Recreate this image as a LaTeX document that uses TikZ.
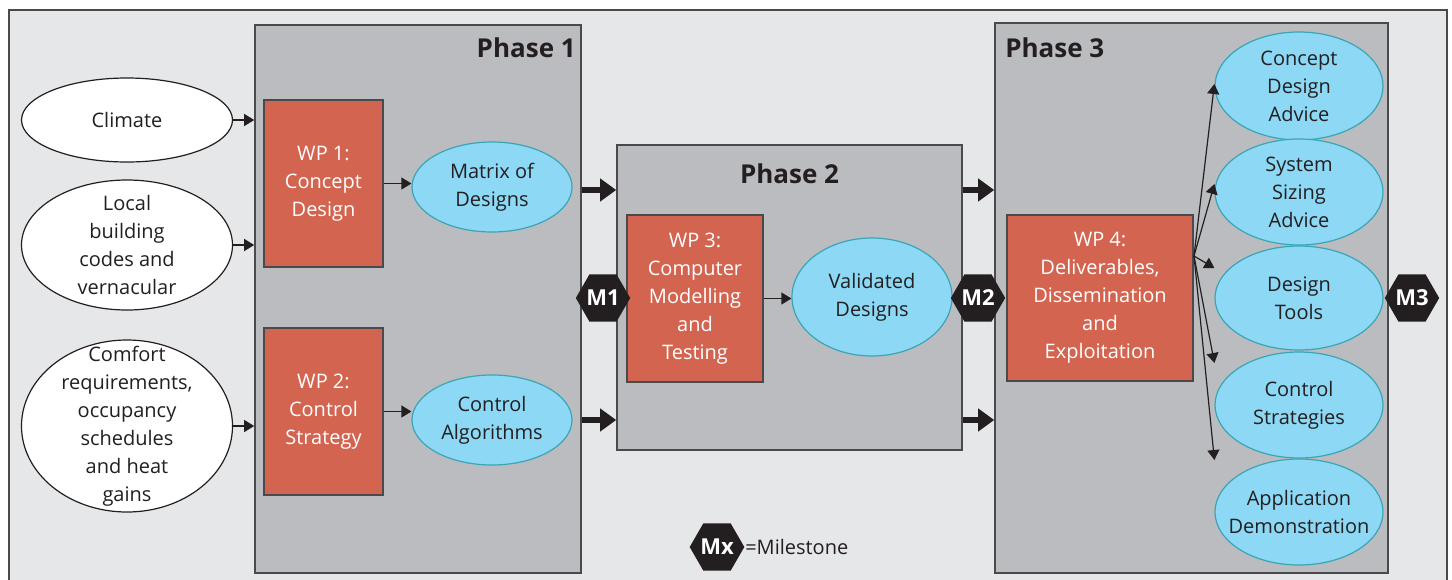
\documentclass[tikz,border=0pt]{standalone}
\usepackage{fontspec}
\setmainfont{Open Sans}
\usetikzlibrary{positioning,shapes,arrows,arrows.meta}
\definecolor{panelgray}{HTML}{E6E7E9}
\definecolor{phasegray}{HTML}{BBBCC0}
\definecolor{edgegray}{HTML}{4A4A4C}
\definecolor{wpred}{HTML}{D26450}
\definecolor{resultblue}{HTML}{8CD8F5}
\definecolor{resultedge}{HTML}{3AA5B5}
\definecolor{hexblack}{HTML}{231F20}
\tikzstyle{phase} = [draw=edgegray, fill=phasegray, rectangle, line width=0.8pt]
\tikzstyle{phaselabel} = [font=\fontsize{13}{15}\selectfont\bfseries, text=hexblack]
\tikzstyle{wp} = [draw=edgegray, fill=wpred, rectangle, text=white, text centered, align=center, line width=0.7pt]
\tikzstyle{input} = [draw=hexblack, ellipse, fill=white, inner sep=0pt, line width=0.6pt]
\tikzstyle{result} = [draw=resultedge, ellipse, fill=resultblue, inner sep=0pt, line width=0.6pt]
\tikzstyle{milestone} = [regular polygon, regular polygon sides=6, fill=hexblack, text=white, font=\fontsize{11}{13}\selectfont\bfseries, minimum size=25pt, inner sep=0pt]
\tikzstyle{line} = [draw=hexblack, line width=0.6pt, -{Triangle[length=5pt,width=6pt]}]
\tikzstyle{bigline} = [draw=hexblack, line width=3pt, -{Triangle[length=8pt,width=11pt]}]

\begin{document}
\begin{tikzpicture}[x=0.5pt, y=-0.5pt, every node/.style={font=\fontsize{10}{14}\selectfont, text=hexblack}, every label/.style={align=center}]
    \useasboundingbox (0,0) rectangle (1452,579);
    \fill [panelgray, draw=edgegray, line width=0.8pt] (9,10) rectangle (1447,600);
    % Place phases
    \node [phase, minimum width=163pt, minimum height=274pt] (phase1) at (418,299) {};
    \node [phase, minimum width=172.5pt, minimum height=152.5pt] (phase2) at (789.5,297.5) {};
    \node [phase, minimum width=196.5pt, minimum height=275pt] (phase3) at (1191.5,298) {};
    \node [phaselabel, anchor=north east] at ([xshift=0.5pt,yshift=-3pt]phase1.north east) {Phase 1};
    \node [phaselabel, anchor=north] at ([yshift=-6pt]phase2.north) {Phase 2};
    \node [phaselabel, anchor=north west] at ([xshift=2pt,yshift=-4pt]phase3.north west) {Phase 3};
    % Place inputs
    \node [input, minimum width=105.5pt, minimum height=42pt, label=center:Climate] (climate) at (127,120) {};
    \node [input, minimum width=105.5pt, minimum height=65pt, label=center:{Local\\building\\codes and\\vernacular}] (codes) at (127,245) {};
    \node [input, minimum width=105.5pt, minimum height=86pt, label=center:{Comfort\\requirements,\\occupancy\\schedules\\and heat\\gains}] (comfort) at (127,426) {};
    % Place work packages
    \node [wp, minimum width=59.5pt, minimum height=83.5pt] (wp1) at (323.5,183.5) {\color{white}WP 1:\\\color{white}Concept\\\color{white}Design};
    \node [wp, minimum width=59.5pt, minimum height=83.5pt] (wp2) at (323.5,411.5) {\color{white}WP 2:\\\color{white}Control\\\color{white}Strategy};
    \node [wp, minimum width=68pt, minimum height=83.5pt] (wp3) at (695,298.5) {\color{white}WP 3:\\\color{white}Computer\\\color{white}Modelling\\\color{white}and\\\color{white}Testing};
    \node [wp, minimum width=93pt, minimum height=83pt] (wp4) at (1100,298) {\color{white}WP 4:\\\color{white}Deliverables,\\\color{white}Dissemination\\\color{white}and\\\color{white}Exploitation};
    % Place results
    \node [result, minimum width=80pt, minimum height=45pt, label=center:{Matrix of\\Designs}] (matrix) at (492,187) {};
    \node [result, minimum width=80pt, minimum height=45pt, label=center:{Control\\Algorithms}] (algorithms) at (492,420) {};
    \node [result, minimum width=80pt, minimum height=59pt, label=center:{Validated\\Designs}] (validated) at (872,297) {};
    \node [result, minimum width=84pt, minimum height=54pt, label=center:{Concept\\Design\\Advice}] (advice) at (1299,86) {};
    \node [result, minimum width=84pt, minimum height=53pt, label=center:{System\\Sizing\\Advice}] (sizing) at (1299,192) {};
    \node [result, minimum width=84pt, minimum height=52pt, label=center:{Design\\Tools}] (tools) at (1299,298) {};
    \node [result, minimum width=84pt, minimum height=53pt, label=center:{Control\\Strategies}] (strategies) at (1299,405) {};
    \node [result, minimum width=84pt, minimum height=53pt, label=center:{Application\\Demonstration}] (demo) at (1299,512) {};
    % Place milestones
    \node [milestone] (m1) at (603,298) {\color{white}M1};
    \node [milestone] (m2) at (978,298) {\color{white}M2};
    \node [milestone] (m3) at (1412,298) {\color{white}M3};
    \node [milestone] (mx) at (717,547) {\color{white}Mx};
    \node [right=-3.3pt of mx] (legend) {=Milestone};
    \coordinate (fan) at (1194,256);
    % Draw edges
    \path [line] (climate.east) -- (climate.east -| phase1.west);
    \path [line] (codes.east) -- (codes.east -| phase1.west);
    \path [line] (comfort.east) -- (comfort.east -| phase1.west);
    \path [line] (wp1.east) -- (wp1.east -| matrix.west);
    \path [line] (wp2.east) -- (wp2.east -| algorithms.west);
    \path [line] (wp3.east) -- (wp3.east -| validated.west);
    \path [bigline] ([yshift=-1.5pt]matrix -| phase1.east) -- ([yshift=-1.5pt]matrix -| phase2.west);
    \path [bigline] (algorithms -| phase1.east) -- (algorithms -| phase2.west);
    \path [bigline] ([yshift=-1.5pt]matrix -| phase2.east) -- ([yshift=-1.5pt]matrix -| phase3.west);
    \path [bigline] (algorithms -| phase2.east) -- (algorithms -| phase3.west);
    \path [line] (fan) -- ([yshift=1pt]advice.west);
    \path [line] (fan) -- ([yshift=4pt]sizing.west);
    \path [line] (fan) -- ([yshift=15pt]tools.west);
    \path [line] (fan) -- ([yshift=21pt]strategies.west);
    \path [line] (fan) -- ([yshift=26pt]demo.west);
\end{tikzpicture}
\end{document}
